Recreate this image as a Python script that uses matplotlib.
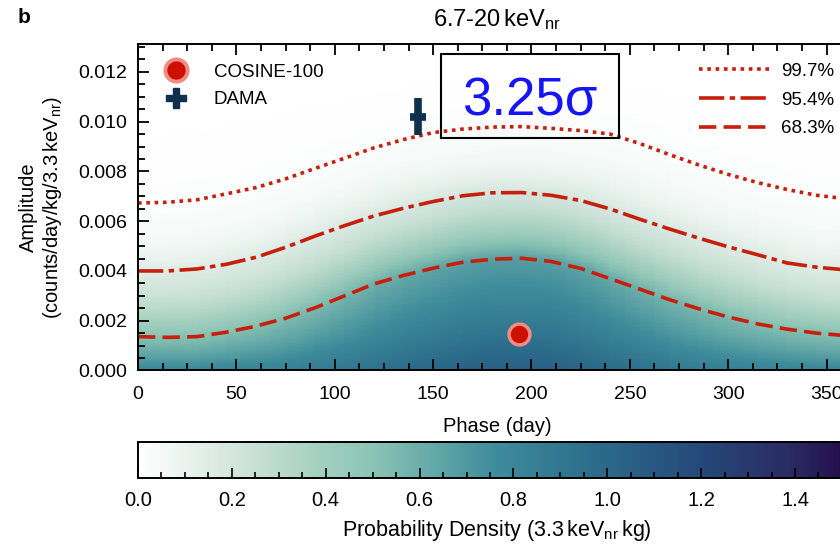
import numpy as np
import matplotlib
matplotlib.use("Agg")
import matplotlib.pyplot as plt
from matplotlib.colors import LinearSegmentedColormap
from matplotlib.lines import Line2D
from matplotlib.patches import Rectangle
from matplotlib.ticker import MultipleLocator, FormatStrFormatter

plt.rcParams['font.family'] = ['Liberation Sans', 'DejaVu Sans']
plt.rcParams['mathtext.fontset'] = 'custom'
plt.rcParams['mathtext.rm'] = 'Liberation Sans'

# ---------------------------
# data
# ---------------------------
phase = [0, 15, 30, 45, 60, 75, 90, 105, 120, 135, 150, 165, 180,
         195, 210, 225, 240, 255, 270, 285, 300, 315, 330, 345, 360, 365]

# credible-interval upper limits (counts/day/kg/3.3 keVnr)
cl_997 = [0.00673, 0.00676, 0.00686, 0.00710, 0.00735, 0.00770, 0.00812,
          0.00853, 0.00895, 0.00928, 0.00956, 0.00970, 0.00978, 0.00980,
          0.00973, 0.00964, 0.00950, 0.00912, 0.00868, 0.00826, 0.00788,
          0.00755, 0.00727, 0.00704, 0.00690, 0.00686]
cl_954 = [0.00400, 0.00400, 0.00408, 0.00427, 0.00455, 0.00495, 0.00540,
          0.00582, 0.00621, 0.00652, 0.00679, 0.00702, 0.00714, 0.00715,
          0.00704, 0.00683, 0.00649, 0.00608, 0.00569, 0.00532, 0.00497,
          0.00465, 0.00432, 0.00415, 0.00404, 0.00401]
cl_683 = [0.00136, 0.00133, 0.00136, 0.00154, 0.00178, 0.00210, 0.00252,
          0.00300, 0.00348, 0.00382, 0.00411, 0.00435, 0.00447, 0.00451,
          0.00438, 0.00410, 0.00369, 0.00327, 0.00285, 0.00248, 0.00215,
          0.00187, 0.00166, 0.00150, 0.00140, 0.00137]

# density at zero amplitude along phase
peak_density = [0.80, 0.80, 0.80, 0.81, 0.82, 0.84, 0.87, 0.90, 0.94, 0.98,
                1.01, 1.04, 1.06, 1.06, 1.05, 1.02, 0.98, 0.94, 0.90, 0.87,
                0.85, 0.83, 0.82, 0.81, 0.80, 0.80]
# density relative to peak at 0, 68.3%, 95.4%, 99.7% lines and top of plot
level_frac = [1.0, 0.64, 0.19, 0.02, 0.002]

cosine_phase, cosine_amp = 193.8, 0.00147
dama_phase, dama_phase_err = 142.4, 4.2
dama_amp, dama_amp_err = 0.0102, 0.00075

cl_labels = ['99.7%', '95.4%', '68.3%']
cbar_ticks = [0.0, 0.2, 0.4, 0.6, 0.8, 1.0, 1.2, 1.4]
cmap_values = [0.0, 0.25, 0.37, 0.5, 0.76, 0.98, 1.2, 1.39, 1.53]
cmap_colors = ['#ffffff', '#c8e0d6', '#a8d1c2', '#8ac4b4', '#3e8c9b',
               '#2b6b8a', '#26487a', '#2a2b63', '#220847']

VMAX = 1.53
AMP_TOP = 0.01312
RED = '#c81e0c'
NAVY = '#0f2f4c'

# ---------------------------
# density map built from the contour lines
# ---------------------------
amp_grid = np.linspace(0, AMP_TOP, 240)
ph = np.array(phase, dtype=float)
dens = np.zeros((len(amp_grid), len(ph)))
for j in range(len(ph)):
    knots = [0, cl_683[j], cl_954[j], cl_997[j], AMP_TOP]
    logs = np.log(np.array(level_frac) * peak_density[j])
    dens[:, j] = np.exp(np.interp(amp_grid, knots, logs))

cmap = LinearSegmentedColormap.from_list(
    'pd', list(zip(np.array(cmap_values) / VMAX, cmap_colors)))

# ---------------------------
# figure
# ---------------------------
fig = plt.figure(figsize=(8.4, 5.45), dpi=100)
ax = fig.add_axes([0.1643, 0.3202, 0.8548, 0.5991])
cax = fig.add_axes([0.1643, 0.1229, 0.8548, 0.0661])

P, A = np.meshgrid(ph, amp_grid)
mesh = ax.pcolormesh(P, A, dens, cmap=cmap, vmin=0, vmax=VMAX,
                     shading='gouraud', rasterized=True)

lw = 2.6
l997, = ax.plot(phase, cl_997, color=RED, lw=lw, ls=(0, (1.0, 1.3)))
l954, = ax.plot(phase, cl_954, color=RED, lw=lw, ls=(0, (7, 1.5, 1.5, 1.5)))
l683, = ax.plot(phase, cl_683, color=RED, lw=lw, ls=(0, (4.8, 2.0)))

ax.errorbar(dama_phase, dama_amp, xerr=dama_phase_err, yerr=dama_amp_err,
            fmt='none', ecolor=NAVY, elinewidth=5.5, capsize=0, zorder=5)
ax.plot(cosine_phase, cosine_amp, 'o', ms=15, mfc='#cc1100', mec='#f08c84',
        mew=2.5, zorder=6)

ax.set_xlim(0, 365)
ax.set_ylim(0, AMP_TOP)
ax.xaxis.set_major_locator(MultipleLocator(50))
ax.xaxis.set_minor_locator(MultipleLocator(12.5))
ax.yaxis.set_major_locator(MultipleLocator(0.002))
ax.yaxis.set_minor_locator(MultipleLocator(0.0005))
ax.yaxis.set_major_formatter(FormatStrFormatter('%.3f'))
ax.tick_params(which='both', direction='in', top=True, right=True,
               labelsize=14, width=1.3)
ax.tick_params(which='major', length=8)
ax.tick_params(which='minor', length=5)
ax.tick_params(axis='x', which='major', pad=11)
ax.tick_params(axis='y', which='major', pad=8)
for s in ax.spines.values():
    s.set_linewidth(1.4)

ax.set_xlabel('Phase (day)', fontsize=14.5, labelpad=10)
ax.set_ylabel('Amplitude\n(counts/day/kg/3.3$\\,\\mathregular{keV_{nr}}$)',
              fontsize=14.5, labelpad=10)
ax.set_title('6.7-20$\\,\\mathregular{keV_{nr}}$', fontsize=17, pad=13,
             x=0.5)
fig.text(0.029, 0.968, 'b', fontsize=15, fontweight='bold',
         ha='center', va='center')

# box with significance
ax.add_patch(Rectangle((0.422, 0.712), 0.248, 0.257, transform=ax.transAxes,
                       fill=False, ec='black', lw=1.5, zorder=7))
ax.text(0.546, 0.823, '3.25σ', transform=ax.transAxes, ha='center',
        va='center', fontsize=38, color='#1414f5', zorder=8)

# legends
h_pts = [Line2D([], [], ls='none', marker='o', ms=16, mfc='#cc1100',
                mec='#f08c84', mew=2.8),
         Line2D([], [], ls='none', marker='P', ms=14, color=NAVY)]
leg1 = ax.legend(h_pts, ['COSINE-100', 'DAMA'], loc='upper left',
                 bbox_to_anchor=(0.0, 1.0), frameon=False, fontsize=13.5,
                 handletextpad=1.0, labelspacing=0.55, borderaxespad=0.65)
ax.add_artist(leg1)
ax.legend([l997, l954, l683], cl_labels, loc='upper left',
          bbox_to_anchor=(0.755, 1.0), frameon=False, fontsize=13.5,
          handlelength=3.8, handletextpad=0.6, labelspacing=0.62,
          borderaxespad=0.6)

# colorbar
cb = fig.colorbar(mesh, cax=cax, orientation='horizontal')
cb.set_ticks(cbar_ticks)
cb.ax.xaxis.set_minor_locator(MultipleLocator(0.05))
cb.ax.tick_params(which='both', direction='in', bottom=True, top=False,
                  labelsize=14.5, width=1.2, pad=9)
cb.ax.tick_params(which='major', length=7)
cb.ax.tick_params(which='minor', length=4)
cb.outline.set_linewidth(1.4)
cb.set_label('Probability Density (3.3$\\,\\mathregular{keV_{nr}}\\,$kg)',
             fontsize=15.5, labelpad=6)

fig.savefig('out.png', dpi=100)
